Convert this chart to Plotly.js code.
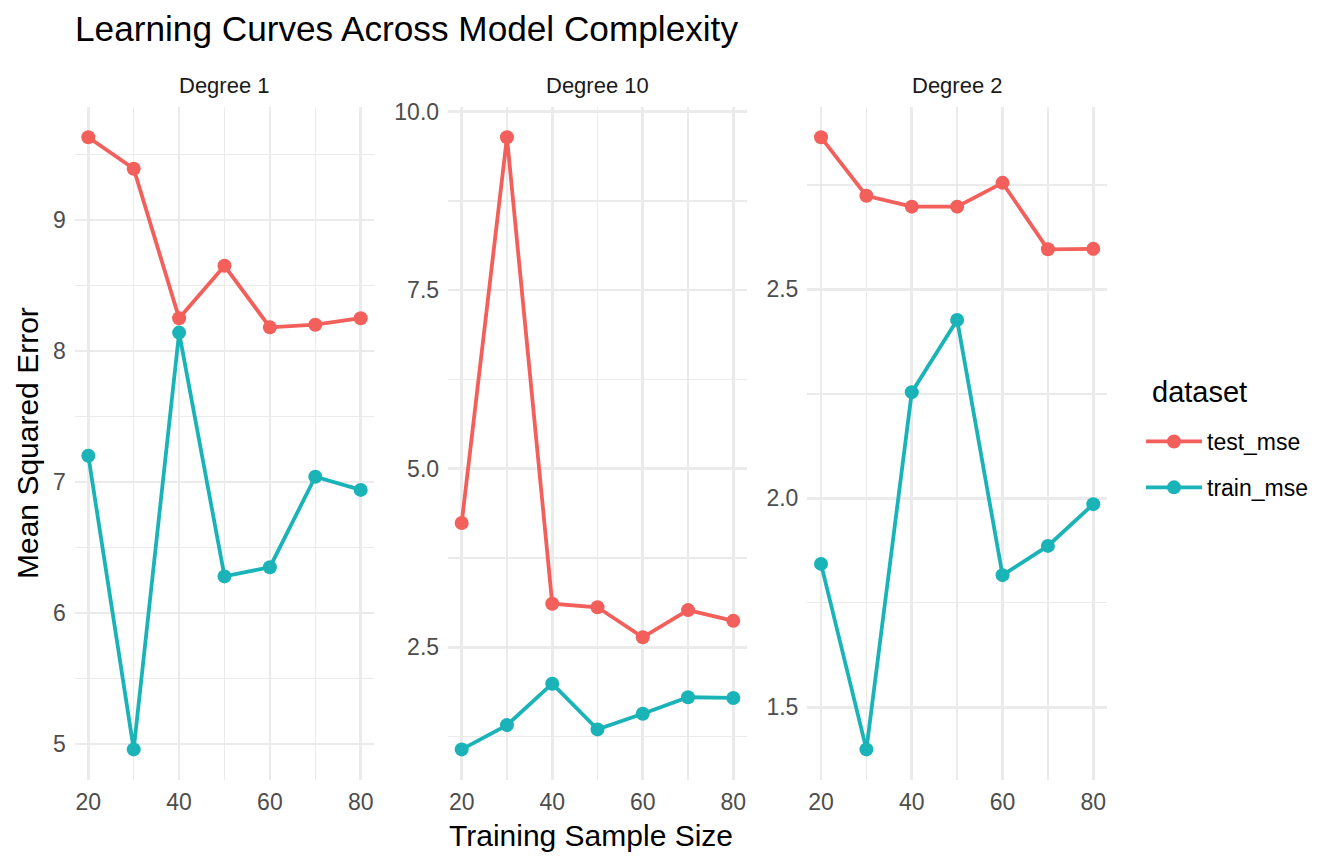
<!DOCTYPE html>
<html>
<head>
<meta charset="utf-8">
<script src="https://cdn.plot.ly/plotly-3.0.1.min.js"></script>
<style>html,body{margin:0;padding:0;background:#fff;}#chart{width:1344px;height:864px;}</style>
</head>
<body>
<div id="chart"></div>
<script>
// ---- data ----
var sampleSizes = [20, 30, 40, 50, 60, 70, 80];
var panelLabels = ["Degree 1", "Degree 10", "Degree 2"];
var seriesNames = ["test_mse", "train_mse"];
var deg1Test  = [9.63, 9.39, 8.25, 8.65, 8.18, 8.20, 8.25];
var deg1Train = [7.20, 4.96, 8.14, 6.28, 6.35, 7.04, 6.94];
var deg10Test  = [4.24, 9.64, 3.11, 3.06, 2.64, 3.02, 2.87];
var deg10Train = [1.07, 1.41, 1.99, 1.35, 1.57, 1.80, 1.79];
var deg2Test  = [2.864, 2.724, 2.698, 2.698, 2.755, 2.596, 2.597];
var deg2Train = [1.843, 1.399, 2.254, 2.427, 1.816, 1.886, 1.986];
var xTicks = [20, 40, 60, 80];

// ---- styling ----
var W = 1344, H = 864;
var FONT = "Liberation Sans, Arial, Helvetica, sans-serif";
var colors = ["#F35F5A", "#1AB4B8"];
var panels = [
  {test: deg1Test, train: deg1Train, dtick: 1, minor: 0.5, fmt: "d"},
  {test: deg10Test, train: deg10Train, dtick: 2.5, minor: 1.25, fmt: ".1f"},
  {test: deg2Test, train: deg2Train, dtick: 0.5, minor: 0.25, fmt: ".1f"}
];
var xDomainsPx = [[74.7, 374.3], [448.1, 746.9], [807.4, 1106.9]];
var yDomain = [1 - 780 / H, 1 - 106.7 / H];

function expand(arr) {
  var mn = Math.min.apply(null, arr), mx = Math.max.apply(null, arr);
  var s = mx - mn;
  return [mn - 0.05 * s, mx + 0.05 * s];
}

var traces = [];
var layout = {
  width: W, height: H,
  margin: {l: 0, r: 0, t: 0, b: 0},
  paper_bgcolor: "#ffffff", plot_bgcolor: "#ffffff",
  font: {family: FONT, color: "#4d4d4d"},
  showlegend: true,
  title: {text: "Learning Curves Across Model Complexity", x: 75 / W, xanchor: "left",
          y: 1 - 29 / H, yanchor: "middle", xref: "paper", yref: "container",
          font: {family: FONT, size: 35.2, color: "#000000"}},
  legend: {x: 1141 / W, xanchor: "left", y: 1 - 420 / H, yanchor: "top",
           font: {family: FONT, size: 23, color: "#000000"},
           itemwidth: 56,
           tracegroupgap: 13, bgcolor: "rgba(0,0,0,0)"},
  annotations: []
};

panels.forEach(function (p, i) {
  var ax = i === 0 ? "" : String(i + 1);
  var data = [p.test, p.train];
  data.forEach(function (vals, k) {
    traces.push({
      type: "scatter", mode: "lines+markers",
      x: sampleSizes, y: vals,
      xaxis: "x" + ax, yaxis: "y" + ax,
      name: seriesNames[k], legendgroup: seriesNames[k],
      showlegend: i === 0,
      line: {color: colors[k], width: 3.8},
      marker: {color: colors[k], size: 14},
      hoverinfo: "x+y+name"
    });
  });
  var yr = expand(p.test.concat(p.train));
  layout["xaxis" + ax] = {
    domain: [xDomainsPx[i][0] / W, xDomainsPx[i][1] / W],
    anchor: "y" + ax,
    range: [17, 83], tickvals: xTicks, ticktext: xTicks.map(String),
    showgrid: true, gridcolor: "#ebebeb", gridwidth: 2.6,
    minor: {dtick: 10, tick0: 0, showgrid: true, gridcolor: "#ebebeb", gridwidth: 1.4},
    zeroline: false, showline: false, ticks: "",
    tickfont: {family: FONT, size: 23, color: "#4d4d4d"},
    ticklabelstandoff: 6
  };
  layout["yaxis" + ax] = {
    domain: yDomain, anchor: "x" + ax,
    range: yr, dtick: p.dtick, tick0: 0, tickformat: p.fmt,
    showgrid: true, gridcolor: "#ebebeb", gridwidth: 2.6,
    minor: {dtick: p.minor, tick0: 0, showgrid: true, gridcolor: "#ebebeb", gridwidth: 1.4},
    zeroline: false, showline: false, ticks: "",
    tickfont: {family: FONT, size: 23, color: "#4d4d4d"},
    ticklabelstandoff: 8
  };
  layout.annotations.push({
    text: panelLabels[i], xref: "paper", yref: "paper",
    x: (xDomainsPx[i][0] + xDomainsPx[i][1]) / 2 / W, y: 1 - 85.5 / H,
    xanchor: "center", yanchor: "middle", showarrow: false,
    font: {family: FONT, size: 22, color: "#1a1a1a"}
  });
});

layout.annotations.push({
  text: "Training Sample Size", xref: "paper", yref: "paper",
  x: (74.7 + 1106.9) / 2 / W, y: 1 - 835 / H, xanchor: "center", yanchor: "middle",
  showarrow: false, font: {family: FONT, size: 30, color: "#000000"}
});
layout.annotations.push({
  text: "Mean Squared Error", xref: "paper", yref: "paper",
  x: 27 / W, y: 1 - 443 / H, xanchor: "center", yanchor: "middle", textangle: -90,
  showarrow: false, font: {family: FONT, size: 30, color: "#000000"}
});
layout.annotations.push({
  text: "dataset", xref: "paper", yref: "paper",
  x: 1150 / W, y: 1 - 392 / H, xanchor: "left", yanchor: "middle",
  showarrow: false, font: {family: FONT, size: 29, color: "#000000"}
});

Plotly.newPlot("chart", traces, layout, {displayModeBar: false, staticPlot: true});
</script>
</body>
</html>
